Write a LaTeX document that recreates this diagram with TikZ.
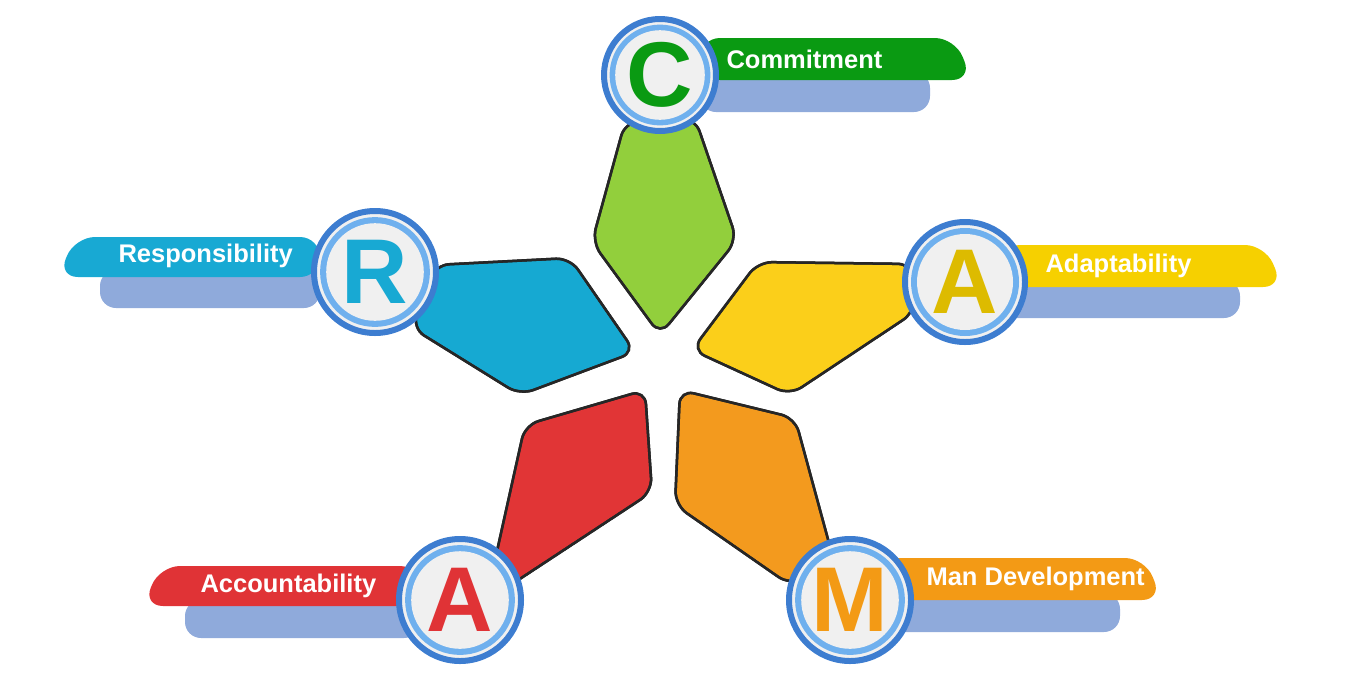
\documentclass[tikz,border=0pt]{standalone}
\usepackage{fontspec}
\setmainfont{Liberation Sans}
\begin{document}
\begin{tikzpicture}[x=1pt,y=-1pt,
  petal/.style={draw=black!85,line width=2.5pt,rounded corners=14pt},
  ring/.style={circle,minimum size=#1,draw=ringc,line width=6pt,fill=gray!12,
     path picture={\fill[ringl] (path picture bounding box.center) circle (0.45*#1);
       \fill[gray!12] (path picture bounding box.center) circle (0.40*#1);}},
  lab/.style={text=white,font=\bfseries\fontsize{25.5}{28}\selectfont,anchor=west},
  letter/.style={font=\bfseries\fontsize{92}{92}\selectfont}]
\useasboundingbox (0,0) rectangle (1356,689);
\definecolor{ringc}{HTML}{3D7DD0}\definecolor{ringl}{HTML}{6FB0EE}
\definecolor{cgreen}{HTML}{0A9A12}\definecolor{pgreen}{HTML}{92CF3C}
\definecolor{cyel}{HTML}{F6D000}\definecolor{pyel}{HTML}{FBCF1A}
\definecolor{cora}{HTML}{F39A15}\definecolor{pora}{HTML}{F39A1E}
\definecolor{cred}{HTML}{E03336}\definecolor{pred}{HTML}{E13536}
\definecolor{cblue}{HTML}{18A9D3}\definecolor{pblue}{HTML}{16A9D2}
\definecolor{lav}{HTML}{8FAADB}
% petals
\fill[petal,fill=pgreen] (625,122) -- (695,118) -- (737,240) -- (660,335) -- (592,242) -- cycle;
\fill[petal,fill=pyel] (692,350) -- (758,262) -- (912,264) -- (915,312) -- (790,395) -- cycle;
\fill[petal,fill=pora] (680,390) -- (795,418) -- (835,565) -- (790,585) -- (675,505) -- cycle;
\fill[petal,fill=pred] (645,390) -- (652,492) -- (500,592) -- (495,560) -- (525,425) -- cycle;
\fill[petal,fill=pblue] (435,265) -- (570,258) -- (635,352) -- (520,395) -- (412,328) -- cycle;
\draw[petal] (625,122) -- (695,118) -- (737,240) -- (660,335) -- (592,242) -- cycle;
\draw[petal] (692,350) -- (758,262) -- (912,264) -- (915,312) -- (790,395) -- cycle;
\draw[petal] (680,390) -- (795,418) -- (835,565) -- (790,585) -- (675,505) -- cycle;
\draw[petal] (645,390) -- (652,492) -- (500,592) -- (495,560) -- (525,425) -- cycle;
\draw[petal] (435,265) -- (570,258) -- (635,352) -- (520,395) -- (412,328) -- cycle;
% banners
\fill[lav,rounded corners=16pt] (700,72) -- (930,72) -- (930,112) -- (700,112) -- cycle;
\fill[cgreen,rounded corners=20pt] (700,38) -- (955,38) -- (972,80) -- (700,80) -- cycle;
\fill[lav,rounded corners=16pt] (320,270) -- (100,270) -- (100,308) -- (320,308) -- cycle;
\fill[cblue,rounded corners=20pt] (320,237) -- (75,237) -- (58,277) -- (320,277) -- cycle;
\fill[lav,rounded corners=16pt] (1000,280) -- (1240,280) -- (1240,318) -- (1000,318) -- cycle;
\fill[cyel,rounded corners=20pt] (1000,245) -- (1265,245) -- (1283,287) -- (1000,287) -- cycle;
\fill[lav,rounded corners=16pt] (880,593) -- (1120,593) -- (1120,632) -- (880,632) -- cycle;
\fill[cora,rounded corners=20pt] (880,558) -- (1145,558) -- (1162,600) -- (880,600) -- cycle;
\fill[lav,rounded corners=16pt] (420,600) -- (185,600) -- (185,638) -- (420,638) -- cycle;
\fill[cred,rounded corners=20pt] (420,566) -- (160,566) -- (143,606) -- (420,606) -- cycle;
\node[lab] (tc) at (723,59) {Commitment};
\node[lab] (tr) at (115,256) {Responsibility};
\node[lab] (ta) at (1042,266) {Adaptability};
\node[lab] (tm) at (923,579) {Man Development};
\node[lab] (tac) at (197,586) {Accountability};
% circles
\node[ring=112pt] (c) at (660,75) {};
\node[ring=122pt] (r) at (375,272) {};
\node[ring=120pt] (a1) at (965,282) {};
\node[ring=122pt] (m) at (850,600) {};
\node[ring=122pt] (a2) at (460,600) {};
\node[letter,text=cgreen] at (c) {C};
\node[letter,text=cblue] at (r) {R};
\node[letter,text=cyel!90!black] at (a1) {A};
\node[letter,text=cora] at (m) {M};
\node[letter,text=cred] at (a2) {A};
\end{tikzpicture}
\end{document}
